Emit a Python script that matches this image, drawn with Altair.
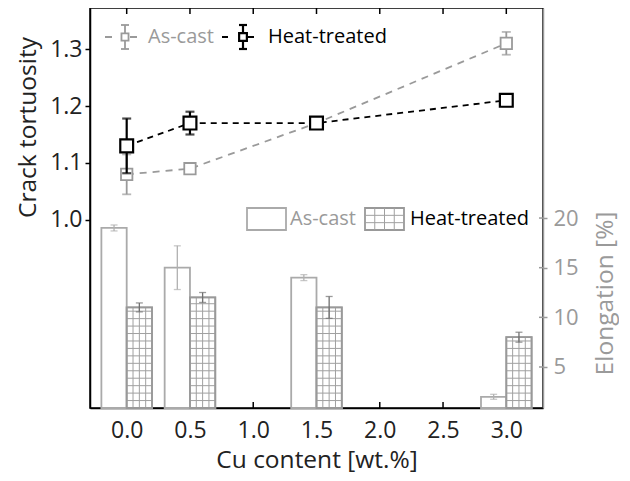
import altair as alt
import pandas as pd

# ---- data ----
cu = [0.0, 0.5, 1.5, 3.0]
tort_as = [1.08, 1.09, 1.17, 1.31]
tort_as_err = [0.035, 0.003, 0.004, 0.02]
tort_ht = [1.13, 1.17, 1.17, 1.21]
tort_ht_err = [0.048, 0.02, 0.004, 0.01]
elong_as = [19.0, 15.0, 14.0, 2.0]
elong_as_err = [0.3, 2.2, 0.3, 0.25]
elong_ht = [11.0, 12.0, 11.0, 8.0]
elong_ht_err = [0.45, 0.5, 1.1, 0.5]
x_ticks = [0.0, 0.5, 1.0, 1.5, 2.0, 2.5, 3.0]
left_ticks = [1.0, 1.1, 1.2, 1.3]
right_ticks = [5, 10, 15, 20]

# ---- styling / layout ----
FONT = "Open Sans"
GRAY = "#9a9a9a"
BAR_GRAY = "#aaaaaa"
W, H = 453, 400
X_DOM = [-0.29, 3.29]
L_DOM = [0.67, 1.372]
R_DOM = [0.87, 41.15]
BW = 0.2          # bar width in data units
HSTEP = 0.75      # hatch row spacing (elongation units)

xs = alt.Scale(domain=X_DOM, nice=False, zero=False)
ls = alt.Scale(domain=L_DOM, nice=False, zero=False)
rs = alt.Scale(domain=R_DOM, nice=False, zero=False)

# ---------------- tortuosity (left axis) ----------------
tdf = pd.DataFrame({
    "cu": cu * 2,
    "v": tort_as + tort_ht,
    "e": tort_as_err + tort_ht_err,
    "s": ["As-cast"] * 4 + ["Heat-treated"] * 4,
})
tdf["lo"] = tdf["v"] - tdf["e"]
tdf["hi"] = tdf["v"] + tdf["e"]
tas = tdf[tdf.s == "As-cast"]
tht = tdf[tdf.s == "Heat-treated"]

left_axis = alt.Axis(values=left_ticks, format=".1f", title="Crack tortuosity",
                     labelFont=FONT, labelFontSize=23, labelColor="#222",
                     titleFont=FONT, titleFontSize=24.5, titleFontWeight="normal",
                     titleColor="#222", titleX=-62, titleY=119, titleAngle=-90,
                     titleAlign="center", titleBaseline="middle",
                     domainColor="black", domainWidth=1.5, tickColor="black",
                     tickWidth=1.5, tickSize=5, labelPadding=3, grid=False,
                     orient="left")
x_axis = alt.Axis(values=x_ticks, format=".1f", title="Cu content [wt.%]",
                  labelFont=FONT, labelFontSize=23, labelColor="#222",
                  titleFont=FONT, titleFontSize=24.5, titleFontWeight="normal",
                  titleColor="#222", titleY=52, titleBaseline="middle",
                  domainColor="black", domainWidth=1.5, ticks=False, tickSize=0,
                  labelPadding=11, grid=False, orient="bottom")


def series(df, color, dash, size, sw, cap):
    base = alt.Chart(df)
    line = base.mark_line(color=color, strokeDash=dash, strokeWidth=1.8).encode(
        x=alt.X("cu:Q", scale=xs), y=alt.Y("v:Q", scale=ls))
    err = base.mark_rule(color=color, strokeWidth=sw).encode(
        x=alt.X("cu:Q", scale=xs), y=alt.Y("lo:Q", scale=ls), y2="hi:Q")
    cap_lo = base.mark_tick(color=color, orient="horizontal", size=cap,
                            thickness=sw).encode(
        x=alt.X("cu:Q", scale=xs), y=alt.Y("lo:Q", scale=ls))
    cap_hi = base.mark_tick(color=color, orient="horizontal", size=cap,
                            thickness=sw).encode(
        x=alt.X("cu:Q", scale=xs), y=alt.Y("hi:Q", scale=ls))
    pts = base.mark_point(shape="square", size=size, filled=True, fill="white",
                          stroke=color, strokeWidth=sw, opacity=1).encode(
        x=alt.X("cu:Q", scale=xs), y=alt.Y("v:Q", scale=ls))
    return [line, err, cap_lo, cap_hi, pts]


axis_anchor = alt.Chart(tas).mark_point(opacity=0).encode(
    x=alt.X("cu:Q", scale=xs, axis=x_axis),
    y=alt.Y("v:Q", scale=ls, axis=left_axis))

as_layers = series(tas, GRAY, [7, 6], 130, 1.8, 9)
ht_layers = series(tht, "black", [6, 5], 165, 2.2, 9)

# top frame ticks (inward) and bottom inward ticks
tick_df = pd.DataFrame({"t": x_ticks})
top_ticks = alt.Chart(tick_df).mark_rule(color="black", strokeWidth=1.5).encode(
    x=alt.X("t:Q", scale=xs), y=alt.value(0), y2=alt.value(6))
bot_ticks = alt.Chart(tick_df).mark_rule(color="black", strokeWidth=1.5).encode(
    x=alt.X("t:Q", scale=xs), y=alt.value(H - 6), y2=alt.value(H))

# ---- top legend (line series) ----
one = pd.DataFrame({"a": [0]})


def line_legend(x0, x1, xc, color, dash, sw, label, tx, sq):
    y = 29
    r = alt.Chart(one).mark_rule(color=color, strokeWidth=1.8, strokeDash=dash).encode(
        x=alt.value(x0), x2=alt.value(x1), y=alt.value(y))
    e = alt.Chart(one).mark_rule(color=color, strokeWidth=sw).encode(
        x=alt.value(xc), y=alt.value(y - 12), y2=alt.value(y + 12))
    c1 = alt.Chart(one).mark_rule(color=color, strokeWidth=sw).encode(
        x=alt.value(xc - 4), x2=alt.value(xc + 4), y=alt.value(y - 12))
    c2 = alt.Chart(one).mark_rule(color=color, strokeWidth=sw).encode(
        x=alt.value(xc - 4), x2=alt.value(xc + 4), y=alt.value(y + 12))
    p = alt.Chart(one).mark_point(shape="square", size=sq, filled=True, fill="white",
                                  stroke=color, strokeWidth=sw, opacity=1).encode(
        x=alt.value(xc), y=alt.value(y))
    t = alt.Chart(one).mark_text(text=label, font=FONT, fontSize=20, color=color,
                                 align="left", baseline="middle").encode(
        x=alt.value(tx), y=alt.value(y))
    return [r, e, c1, c2, p, t]


leg1 = line_legend(15, 54, 35, GRAY, [7, 18], 1.8, "As-cast", 58, 50)
leg2 = line_legend(132, 172, 153, "black", [6, 20], 2.2, "Heat-treated", 178, 60)

left = alt.layer(axis_anchor, top_ticks, bot_ticks, *as_layers, *ht_layers,
                 *leg1, *leg2)

# ---------------- elongation (right axis) ----------------
bdf = pd.DataFrame({
    "cu": cu * 2,
    "v": elong_as + elong_ht,
    "e": elong_as_err + elong_ht_err,
    "s": ["As-cast"] * 4 + ["Heat-treated"] * 4,
})
bdf["x0"] = bdf["cu"] + bdf["s"].map({"As-cast": -BW, "Heat-treated": 0.0})
bdf["x1"] = bdf["x0"] + BW
bdf["xc"] = (bdf["x0"] + bdf["x1"]) / 2
bdf["lo"] = bdf["v"] - bdf["e"]
bdf["hi"] = bdf["v"] + bdf["e"]
bas = bdf[bdf.s == "As-cast"]
bht = bdf[bdf.s == "Heat-treated"]

# hatch lines derived from heat-treated bars
rows = []
for _, r in bht.iterrows():
    for k in (1, 2, 3):
        xv = r.x0 + k * BW / 4
        rows.append({"x": xv, "x2": xv, "y": R_DOM[0], "y2": r.v})
    yv = R_DOM[0] + HSTEP
    while yv < r.v - 0.2:
        rows.append({"x": r.x0, "x2": r.x1, "y": yv, "y2": yv})
        yv += HSTEP
hatch_df = pd.DataFrame(rows)

right_axis = alt.Axis(values=right_ticks, title="Elongation [%]", orient="right",
                      labelFont=FONT, labelFontSize=22, labelColor=GRAY,
                      titleFont=FONT, titleFontSize=24.5, titleFontWeight="normal",
                      titleColor=GRAY, titleX=62, titleY=285, titleAngle=-90,
                      titleAlign="center", titleBaseline="middle",
                      domainColor=GRAY, domainWidth=1.5, tickColor=GRAY,
                      tickWidth=1.5, tickSize=4, labelPadding=6, grid=False)

bars_as = alt.Chart(bas).mark_bar(fill="white", stroke=BAR_GRAY, strokeWidth=1.8).encode(
    x=alt.X("x0:Q", scale=xs), x2="x1:Q",
    y=alt.Y("v:Q", scale=rs, axis=right_axis), y2=alt.datum(R_DOM[0]))
bars_ht = alt.Chart(bht).mark_bar(fill="white", stroke=BAR_GRAY, strokeWidth=1.8).encode(
    x=alt.X("x0:Q", scale=xs), x2="x1:Q",
    y=alt.Y("v:Q", scale=rs), y2=alt.datum(R_DOM[0]))
hatch = alt.Chart(hatch_df).mark_rule(color="#a0a0a0", strokeWidth=1).encode(
    x=alt.X("x:Q", scale=xs), x2="x2:Q",
    y=alt.Y("y:Q", scale=rs), y2="y2:Q")
bars_ht_outline = alt.Chart(bht).mark_bar(fillOpacity=0, stroke="#999999",
                                          strokeWidth=1.8).encode(
    x=alt.X("x0:Q", scale=xs), x2="x1:Q",
    y=alt.Y("v:Q", scale=rs), y2=alt.datum(R_DOM[0]))


def bar_err(df, color):
    e = alt.Chart(df).mark_rule(color=color, strokeWidth=1.3).encode(
        x=alt.X("xc:Q", scale=xs), y=alt.Y("lo:Q", scale=rs), y2="hi:Q")
    c1 = alt.Chart(df).mark_tick(color=color, orient="horizontal", size=7,
                                 thickness=1.3).encode(
        x=alt.X("xc:Q", scale=xs), y=alt.Y("lo:Q", scale=rs))
    c2 = alt.Chart(df).mark_tick(color=color, orient="horizontal", size=7,
                                 thickness=1.3).encode(
        x=alt.X("xc:Q", scale=xs), y=alt.Y("hi:Q", scale=rs))
    return [e, c1, c2]


rt_df = pd.DataFrame({"t": right_ticks})
right_inner_ticks = alt.Chart(rt_df).mark_rule(color=GRAY, strokeWidth=1.5).encode(
    x=alt.value(W - 4), x2=alt.value(W), y=alt.Y("t:Q", scale=rs))

# bar legend
box_as = alt.Chart(one).mark_rect(fill="white", stroke=BAR_GRAY, strokeWidth=1.8).encode(
    x=alt.value(157), x2=alt.value(196), y=alt.value(200), y2=alt.value(222))
txt_as = alt.Chart(one).mark_text(text="As-cast", font=FONT, fontSize=20, color=GRAY,
                                  align="left", baseline="middle").encode(
    x=alt.value(200), y=alt.value(211))
box_ht = alt.Chart(one).mark_rect(fill="white", stroke="#999999", strokeWidth=1.8).encode(
    x=alt.value(275), x2=alt.value(314), y=alt.value(200), y2=alt.value(222))
leg_hatch_v = [alt.Chart(one).mark_rule(color="#a0a0a0", strokeWidth=1).encode(
    x=alt.value(275 + k * 39 / 4), y=alt.value(200), y2=alt.value(222)) for k in (1, 2, 3)]
leg_hatch_h = [alt.Chart(one).mark_rule(color="#a0a0a0", strokeWidth=1).encode(
    x=alt.value(275), x2=alt.value(314), y=alt.value(200 + k * 22 / 3)) for k in (1, 2)]
txt_ht = alt.Chart(one).mark_text(text="Heat-treated", font=FONT, fontSize=20,
                                  color="black", align="left", baseline="middle").encode(
    x=alt.value(320), y=alt.value(211))

right = alt.layer(bars_as, *bar_err(bas, "#b0b0b0"), bars_ht, hatch, bars_ht_outline,
                  *bar_err(bht, "#707070"), right_inner_ticks,
                  box_as, txt_as, box_ht, *leg_hatch_v, *leg_hatch_h, txt_ht)

chart = alt.layer(left, right).resolve_scale(y="independent").properties(
    width=W, height=H,
    autosize=alt.AutoSizeParams(type="none"),
    padding={"left": 82, "top": 0, "right": 76, "bottom": 65},
    background="white",
).configure_view(stroke="black", strokeWidth=1.5)

chart.save("out.html", embed_options={"renderer": "svg", "actions": False})
